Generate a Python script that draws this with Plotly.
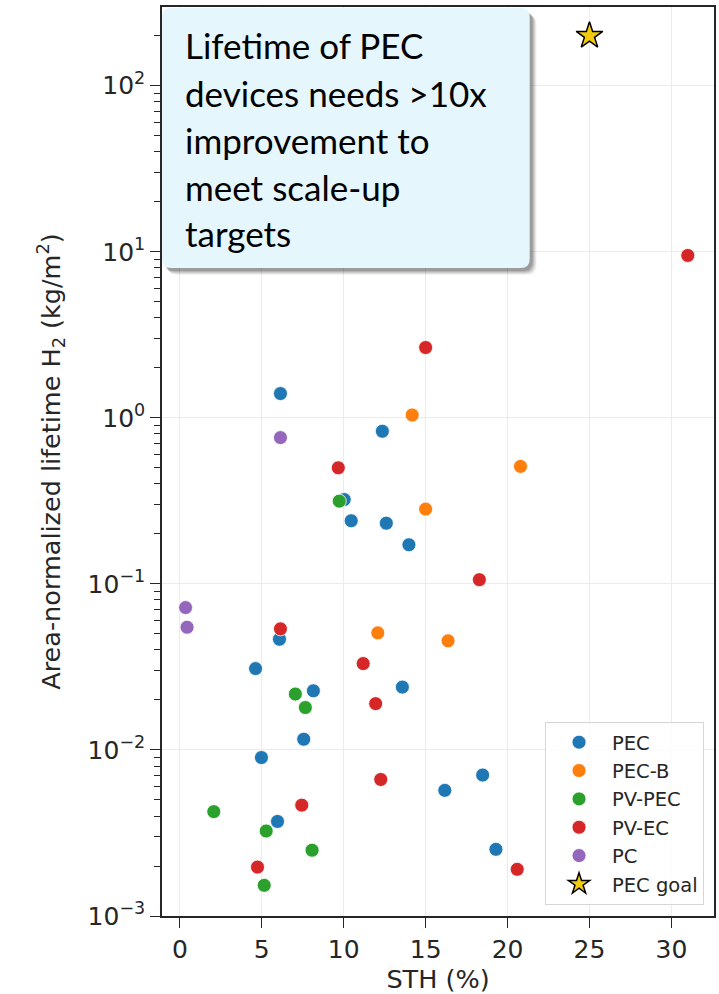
import plotly.graph_objects as go

# ---- data ----
categories = ["PEC", "PEC-B", "PV-PEC", "PV-EC", "PC"]
colors = ["#1f77b4", "#ff7f0e", "#2ca02c", "#d62728", "#9467bd"]

pec_x = [6.14, 10.03, 10.46, 6.08, 12.36, 12.6, 13.98, 4.62, 8.15, 7.56, 4.98, 5.96, 13.58, 18.48, 16.17, 19.29]
pec_y = [1.40, 0.322, 0.240, 0.0464, 0.83, 0.232, 0.172, 0.0309, 0.0227, 0.0116, 0.0090, 0.00371, 0.0239, 0.00706, 0.00571, 0.00252]

pecb_x = [14.18, 20.79, 15.0, 12.08, 16.37]
pecb_y = [1.04, 0.51, 0.282, 0.0507, 0.0454]

pvpec_x = [9.73, 7.05, 7.66, 2.07, 5.27, 8.07, 5.15]
pvpec_y = [0.315, 0.0217, 0.018, 0.00425, 0.00325, 0.00249, 0.00153]

pvec_x = [9.67, 6.14, 15.0, 18.28, 11.19, 11.95, 12.26, 7.44, 4.74, 20.59, 31.0]
pvec_y = [0.50, 0.0536, 2.65, 0.106, 0.0331, 0.0190, 0.00664, 0.00465, 0.00197, 0.00191, 9.5]

pc_x = [6.14, 0.35, 0.44]
pc_y = [0.76, 0.072, 0.0548]

goal_label = "PEC goal"
goal_x = [25]
goal_y = [200]

x_ticks = [0, 5, 10, 15, 20, 25, 30]
y_tickvals = [1e-3, 1e-2, 1e-1, 1e0, 1e1, 1e2]
y_ticktext = ["10<sup>−3</sup>", "10<sup>−2</sup>", "10<sup>−1</sup>",
              "10<sup>0</sup>", "10<sup>1</sup>", "10<sup>2</sup>"]

note_lines = ["Lifetime of PEC", "devices needs >10x", "improvement to",
              "meet scale-up", "targets"]

series_x = [pec_x, pecb_x, pvpec_x, pvec_x, pc_x]
series_y = [pec_y, pecb_y, pvpec_y, pvec_y, pc_y]

# ---- layout geometry ----
W, H = 719, 994
ML, MR, MT, MB = 162, 3, 7, 78
PW, PH = W - ML - MR, H - MT - MB

def px2paper(px, py):
    return (px - ML) / PW, (H - MB - py) / PH

def rounded_rect(x0, y0, x1, y1, r):
    def P(x, y):
        a, b = px2paper(x, y)
        return f"{a:.5f},{b:.5f}"
    return (f"M {P(x0 + r, y0)} L {P(x1 - r, y0)} Q {P(x1, y0)} {P(x1, y0 + r)} "
            f"L {P(x1, y1 - r)} Q {P(x1, y1)} {P(x1 - r, y1)} L {P(x0 + r, y1)} "
            f"Q {P(x0, y1)} {P(x0, y1 - r)} L {P(x0, y0 + r)} Q {P(x0, y0)} {P(x0 + r, y0)} Z")

fig = go.Figure()

for name, c, xs, ys in zip(categories, colors, series_x, series_y):
    fig.add_trace(go.Scatter(
        x=xs, y=ys, mode="markers", name=name, legendgroup=name,
        marker=dict(color=c, size=14, line=dict(color="white", width=0.8)),
    ))

fig.add_trace(go.Scatter(
    x=goal_x, y=goal_y, mode="markers", name=goal_label, legendgroup=goal_label,
    marker=dict(symbol="star", color="#f2cc0c", size=20,
                line=dict(color="black", width=1.5)),
))

tick_font = dict(family="DejaVu Sans", size=25, color="#262626")
title_font = dict(family="DejaVu Sans", size=25.5, color="#262626")

fig.update_xaxes(
    range=[-1.09, 32.6], tickvals=x_ticks, ticks="outside", ticklen=10, tickwidth=1.3,
    tickcolor="#262626", showline=True, linecolor="#262626", linewidth=1.6, mirror=True,
    showgrid=True, gridcolor="#ebebeb", gridwidth=1.2, zeroline=False,
    tickfont=tick_font, automargin=False,
    title=dict(text="STH (%)", font=title_font, standoff=12),
)
fig.update_yaxes(
    type="log", range=[-3, 2.474], tickvals=y_tickvals, ticktext=y_ticktext,
    ticks="outside", ticklen=10, tickwidth=1.3, tickcolor="#262626",
    showline=True, linecolor="#262626", linewidth=1.6, mirror=True,
    showgrid=True, gridcolor="#ebebeb", gridwidth=1.2, zeroline=False,
    tickfont=tick_font,
    minor=dict(ticks="outside", ticklen=6, tickwidth=1, tickcolor="#262626",
               dtick="D1", showgrid=False),
    title=dict(text="Area-normalized lifetime H<sub>2</sub> (kg/m<sup>2</sup>)",
               font=title_font, standoff=20),
)

# annotation box (rounded, with soft shadow)
bx0, by0, bx1, by1 = 162, 8, 531, 268
shapes = []
for i, a in enumerate([0.05, 0.07, 0.09, 0.11, 0.13]):
    off = 7 - i
    shapes.append(dict(type="path", xref="paper", yref="paper",
                       path=rounded_rect(bx0 + off - 1, by0 + off, bx1 + off, by1 + off, 10),
                       fillcolor=f"rgba(0,0,0,{a})", line=dict(width=0), layer="above"))
shapes.append(dict(type="path", xref="paper", yref="paper",
                   path=rounded_rect(bx0, by0, bx1, by1, 9),
                   fillcolor="#e5f6fc", line=dict(width=0), layer="above"))

line_centers_px = [45, 93, 140, 187, 233]
for line, cy in zip(note_lines, line_centers_px):
    tx, ty = px2paper(183, cy)
    fig.add_annotation(
        xref="paper", yref="paper", x=tx, y=ty, xanchor="left", yanchor="middle",
        align="left", showarrow=False, text=line,
        font=dict(family="Lato", size=35, color="black"),
    )

lx, ly = px2paper(706, 905)
fig.update_layout(
    width=W, height=H, margin=dict(l=ML, r=MR, t=MT, b=MB),
    plot_bgcolor="white", paper_bgcolor="white",
    shapes=shapes,
    legend=dict(x=lx, y=ly, xanchor="right", yanchor="bottom",
                bgcolor="rgba(255,255,255,0.85)", bordercolor="#d6d6d6", borderwidth=1,
                font=dict(family="DejaVu Sans", size=19.5, color="#262626"),
                traceorder="grouped", tracegroupgap=0, itemwidth=56),
    showlegend=True,
)

fig.write_html("out.html")
